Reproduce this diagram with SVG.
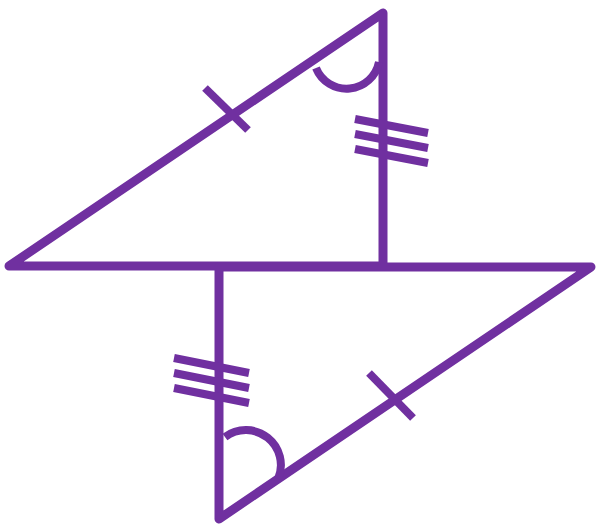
<svg xmlns="http://www.w3.org/2000/svg" width="597" height="526" viewBox="0 0 597 526">
<style>
.edge{fill:none;stroke:#7030A0;stroke-width:9;stroke-linejoin:round;stroke-linecap:round}
.mark{fill:none;stroke:#7030A0;stroke-width:8;stroke-linecap:butt}
</style>
<rect width="597" height="526" fill="#ffffff"/>
<g id="triangle-top">
<polygon class="edge" points="9,266 383,13 383,266"/>
<path class="mark" d="M316,68 A33,33 0 0 0 379,62"/>
<line class="mark" x1="205" y1="88" x2="248" y2="130"/>
<line class="mark" x1="355" y1="119" x2="428" y2="133"/>
<line class="mark" x1="355" y1="134" x2="428" y2="148"/>
<line class="mark" x1="355" y1="149" x2="428" y2="163"/>
</g>
<g id="triangle-bottom">
<polygon class="edge" points="219,267 591,267 219,519"/>
<path class="mark" d="M225,437 A35,35 0 0 1 278,479"/>
<line class="mark" x1="369" y1="373" x2="413" y2="418"/>
<line class="mark" x1="174" y1="358" x2="249" y2="373"/>
<line class="mark" x1="174" y1="373" x2="249" y2="388"/>
<line class="mark" x1="174" y1="388" x2="249" y2="403"/>
</g>
</svg>
